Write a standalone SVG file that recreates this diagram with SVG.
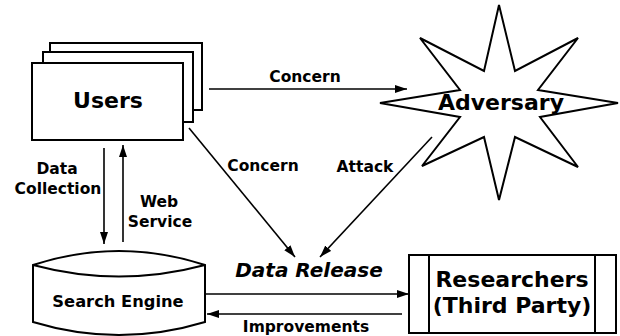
<svg xmlns="http://www.w3.org/2000/svg" width="620" height="336" viewBox="0 0 620 336">
<defs>
<marker id="ah" markerWidth="12" markerHeight="8" refX="12" refY="4" orient="auto" markerUnits="userSpaceOnUse">
<path d="M0,0 L12,4 L0,8 Z" fill="#000"/>
</marker>
<style>
.shape{fill:#fff;stroke:#000;stroke-width:2}
.conn{stroke:#000;stroke-width:1.6;fill:none;marker-end:url(#ah)}
text{font-family:"DejaVu Sans","Liberation Sans",sans-serif;font-weight:bold;fill:#000;text-anchor:middle}
.big{font-size:22px}
.lbl{font-size:15.5px}
</style>
</defs>
<rect width="620" height="336" fill="#fff"/>
<g id="users">
<rect class="shape" x="50" y="43" width="152" height="67"/>
<rect class="shape" x="43" y="52" width="150" height="70"/>
<rect class="shape" x="32" y="63" width="151" height="77"/>
<text class="big" x="108" y="108">Users</text>
</g>
<g id="adversary">
<polygon class="shape" points="499,5 515,71 578,38 538,90 618,103 540,117 578,167 515,137 499,200 484,137 422,166 460,117 380,103 460,90 420,38 484,71"/>
<text class="big" x="501" y="110">Adversary</text>
</g>
<g id="search-engine">
<path class="shape" d="M33,265 Q119,237 205,265 L205,322 Q119,348 33,322 Z"/>
<path d="M33,265 Q119,288 205,265" fill="none" stroke="#000" stroke-width="2"/>
<text x="118" y="307" style="font-size:16.3px">Search Engine</text>
</g>
<g id="researchers">
<rect class="shape" x="409" y="255" width="207" height="78"/>
<line x1="429" y1="255" x2="429" y2="333" stroke="#000" stroke-width="2"/>
<line x1="595" y1="255" x2="595" y2="333" stroke="#000" stroke-width="2"/>
<text class="big" x="512" y="287">Researchers</text>
<text class="big" x="512" y="313">(Third Party)</text>
</g>
<g id="data-release">
<text x="309" y="277" style="font-size:20px;font-style:italic">Data Release</text>
</g>
<g id="connectors">
<line class="conn" x1="209" y1="89" x2="407" y2="89"/>
<line class="conn" x1="189" y1="128" x2="295" y2="257"/>
<line class="conn" x1="432" y1="137" x2="320" y2="257"/>
<line class="conn" x1="104" y1="148" x2="104" y2="244"/>
<line class="conn" x1="123" y1="242" x2="123" y2="145"/>
<line class="conn" x1="205" y1="294" x2="409" y2="294"/>
<line class="conn" x1="402" y1="314" x2="207" y2="314"/>
<text class="lbl" x="305" y="82">Concern</text>
<text class="lbl" x="263" y="171">Concern</text>
<text class="lbl" x="365" y="172">Attack</text>
<text class="lbl" x="57" y="174">Data</text>
<text class="lbl" x="58" y="194">Collection</text>
<text class="lbl" x="159" y="207">Web</text>
<text class="lbl" x="160" y="227">Service</text>
<text class="lbl" x="306" y="332">Improvements</text>
</g>
</svg>
